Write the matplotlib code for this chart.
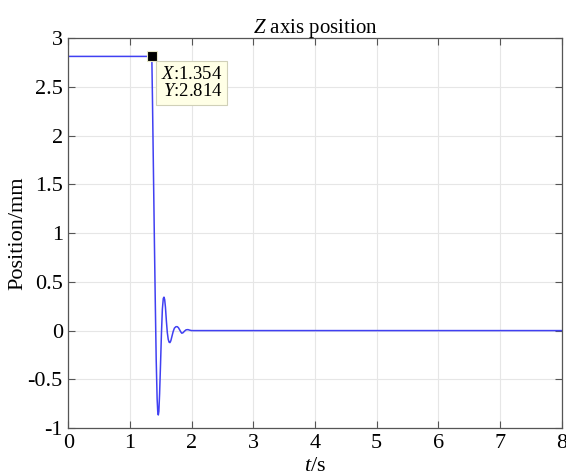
import numpy as np
import matplotlib.pyplot as plt

plt.rcParams['font.family'] = ['Liberation Serif', 'DejaVu Serif']
plt.rcParams['mathtext.fontset'] = 'custom'
plt.rcParams['mathtext.rm'] = 'Liberation Serif'
plt.rcParams['mathtext.it'] = 'Liberation Serif:italic'
plt.rcParams['axes.unicode_minus'] = False

# Z axis response: hold, fast drop, damped ringing around zero
t = [0.0, 1.354, 1.365, 1.38, 1.395, 1.41, 1.425, 1.44, 1.45, 1.459, 1.468,
     1.48, 1.495, 1.51, 1.525, 1.54, 1.551, 1.562, 1.575, 1.59, 1.605, 1.62,
     1.635, 1.648, 1.662, 1.68, 1.70, 1.72, 1.745, 1.767, 1.785, 1.805,
     1.825, 1.84, 1.86, 1.885, 1.91, 1.94, 1.97, 2.0, 2.05, 2.1, 8.0]
z = [2.814, 2.814, 2.35, 1.65, 0.95, 0.30, -0.30, -0.70, -0.83, -0.866, -0.83,
     -0.65, -0.35, -0.03, 0.22, 0.33, 0.343, 0.32, 0.24, 0.10, -0.02, -0.09,
     -0.12, -0.123, -0.105, -0.06, -0.01, 0.025, 0.04, 0.04, 0.03, 0.008,
     -0.015, -0.027, -0.022, -0.005, 0.008, 0.01, 0.004, 0.0, 0.0, 0.0, 0.0]

tip_x = 1.354
tip_y = 2.814

xticks = np.arange(0, 9, 1)
yticks = np.arange(-1, 3.01, 0.5)
ytick_labels = ['-1', '-0.5', '0', '0.5', '1', '1.5', '2', '2.5', '3']

fig = plt.figure(figsize=(5.66, 4.75), dpi=100)
ax = fig.add_axes([0.1207, 0.0989, 0.8717, 0.8205])

ax.plot(t, z, color='#4040f2', lw=1.1)
ax.plot(tip_x, tip_y, 's', color='black', ms=7.5, mec='#e8e8c8', mew=0.8, zorder=5)

ax.text(tip_x + 0.15, tip_y - 0.10, '$X$:%.3f\n$Y$:%.3f' % (tip_x, tip_y),
        fontsize=13.5, ha='left', va='top', linespacing=1.0,
        multialignment='right',
        bbox=dict(boxstyle='square,pad=0.25', fc='#ffffe6', ec='#d0d0b8', lw=0.8),
        zorder=6)

ax.set_xlim(0, 8)
ax.set_ylim(-1, 3)
ax.set_xticks(xticks)
ax.set_yticks(yticks)
ax.set_yticklabels(ytick_labels)
ax.tick_params(direction='in', length=5, width=0.8, color='#555555',
               labelsize=16, top=True, right=True, pad=4)
ax.grid(True, color='#e6e6e6', lw=0.8)
ax.set_axisbelow(True)
for s in ax.spines.values():
    s.set_color('#555555')
    s.set_linewidth(0.9)

ax.set_title('$Z$ axis position', fontsize=15, pad=4)
ax.set_xlabel('$t$/s', fontsize=16, labelpad=3)
ax.set_ylabel('Position/mm', fontsize=16, labelpad=0)

fig.savefig('out.png', dpi=100)
